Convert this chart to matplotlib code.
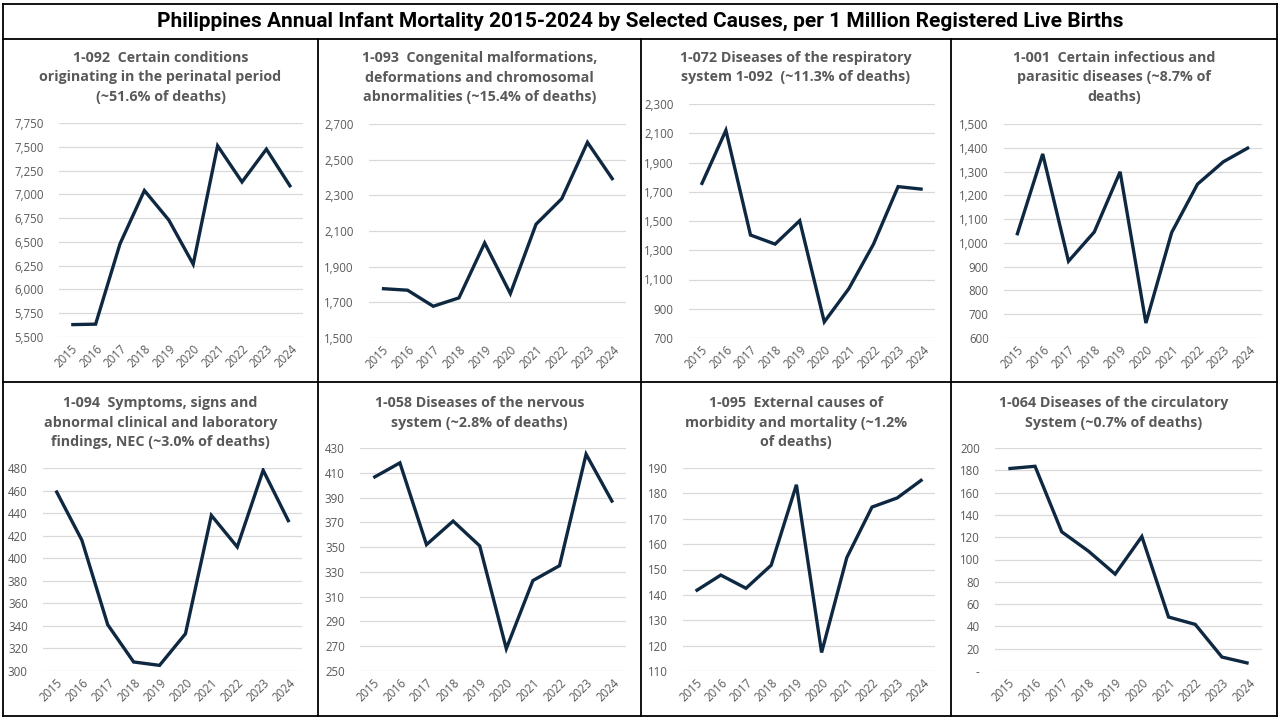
import matplotlib
matplotlib.use("Agg")
import matplotlib.pyplot as plt
from matplotlib.ticker import FuncFormatter, FixedLocator
from matplotlib.lines import Line2D

plt.rcParams["font.family"] = ["Open Sans", "DejaVu Sans"]

years = ["2015", "2016", "2017", "2018", "2019", "2020", "2021", "2022", "2023", "2024"]

title_main = "Philippines Annual Infant Mortality 2015-2024 by Selected Causes, per 1 Million Registered Live Births"

titles = [
    "1-092  Certain conditions\noriginating in the perinatal period\n(~51.6% of deaths)",
    "1-093  Congenital malformations,\ndeformations and chromosomal\nabnormalities (~15.4% of deaths)",
    "1-072 Diseases of the respiratory\nsystem 1-092  (~11.3% of deaths)",
    "1-001  Certain infectious and\nparasitic diseases (~8.7% of\ndeaths)",
    "1-094  Symptoms, signs and\nabnormal clinical and laboratory\nfindings, NEC (~3.0% of deaths)",
    "1-058 Diseases of the nervous\nsystem (~2.8% of deaths)",
    "1-095  External causes of\nmorbidity and mortality (~1.2%\nof deaths)",
    "1-064 Diseases of the circulatory\nSystem (~0.7% of deaths)",
]

perinatal = [5630, 5635, 6480, 7040, 6730, 6265, 7510, 7130, 7475, 7075]
congenital = [1777, 1768, 1678, 1725, 2033, 1749, 2138, 2281, 2597, 2386]
respiratory = [1747, 2120, 1404, 1342, 1502, 810, 1038, 1342, 1735, 1717]
infectious = [1032, 1374, 923, 1046, 1299, 663, 1044, 1247, 1341, 1402]
symptoms = [460, 416, 341, 308, 305, 333, 438, 410, 478, 432]
nervous = [406, 418, 352, 371, 351, 268, 323, 335, 425, 386]
external = [141.5, 147.8, 142.6, 151.7, 183.4, 117.3, 154.7, 174.6, 178.2, 185.5]
circulatory = [181.5, 183.6, 124.8, 107.5, 86.9, 120.6, 48.4, 41.8, 12.5, 6.9]

series = [perinatal, congenital, respiratory, infectious, symptoms, nervous, external, circulatory]

y_ticks = [
    list(range(5500, 7751, 250)),
    list(range(1500, 2701, 200)),
    list(range(700, 2301, 200)),
    list(range(600, 1501, 100)),
    list(range(300, 481, 20)),
    list(range(250, 431, 20)),
    list(range(110, 191, 10)),
    list(range(0, 201, 20)),
]

W, H = 1280, 720
fig = plt.figure(figsize=(12.8, 7.2), dpi=100)
fig.patch.set_facecolor("white")

def fx(x):
    return x / W

def fy(y):
    return 1 - y / H

# plot-area rectangles in pixels: (left, top, right, bottom)
plot_boxes = [
    (59, 123, 303, 337),
    (369, 124, 626, 338),
    (689, 104, 935, 338),
    (1004, 124, 1262, 338),
    (43, 468, 302, 671),
    (360, 448, 626, 671),
    (683, 468, 935, 671),
    (995, 448, 1262, 671),
]

col_edges = [3, 318, 641, 951, 1277]
row_edges = [39, 382, 716]
top_edge = 4

line_color = "#0E2841"
grid_color = "#D9D9D9"
text_gray = "#595959"
tick_gray = "#595959"

def fmt(v, pos):
    if abs(v) < 1e-9:
        return "-"
    return f"{v:,.0f}"

for i, (vals, ticks, box) in enumerate(zip(series, y_ticks, plot_boxes)):
    l, t, r, b = box
    ax = fig.add_axes([fx(l), fy(b), fx(r) - fx(l), fy(t) - fy(b)])
    ax.plot(range(len(years)), vals, color=line_color, lw=2.4, solid_joinstyle="miter",
            solid_capstyle="butt")
    ax.set_xlim(-0.5, len(years) - 0.5)
    ax.set_ylim(ticks[0], ticks[-1])
    ax.yaxis.set_major_locator(FixedLocator(ticks))
    ax.yaxis.set_major_formatter(FuncFormatter(fmt))
    ax.set_xticks(range(len(years)))
    ax.set_xticklabels(years, rotation=45, ha="right", rotation_mode="anchor")
    ax.grid(axis="y", color=grid_color, lw=0.9)
    ax.set_axisbelow(True)
    for s in ax.spines.values():
        s.set_visible(False)
    ax.tick_params(axis="both", length=0, labelsize=8.3, colors=tick_gray)
    ax.tick_params(axis="y", pad=11)
    ax.tick_params(axis="x", pad=4)
    # panel title
    row, col = divmod(i, 4)
    cx = (col_edges[col] + col_edges[col + 1]) / 2
    ty = 51 if row == 0 else 396
    fig.text(fx(cx), fy(ty), titles[i], ha="center", va="top", fontsize=10.3,
             fontweight="bold", color=text_gray, linespacing=1.5)

# main title
fig.text(0.5, fy(21.5), title_main, ha="center", va="center", fontsize=15,
         fontweight="bold", color="black", family=["Roboto", "DejaVu Sans"])

# borders
lw = 1.3
def hline(y, x0, x1):
    fig.add_artist(Line2D([fx(x0), fx(x1)], [fy(y), fy(y)], color="black", lw=lw))

def vline(x, y0, y1):
    fig.add_artist(Line2D([fx(x), fx(x)], [fy(y0), fy(y1)], color="black", lw=lw))

hline(top_edge, col_edges[0], col_edges[-1])
for y in row_edges:
    hline(y, col_edges[0], col_edges[-1])
vline(col_edges[0], top_edge, row_edges[-1])
vline(col_edges[-1], top_edge, row_edges[-1])
for x in col_edges[1:-1]:
    vline(x, row_edges[0], row_edges[-1])

fig.savefig("out.png", dpi=100)
